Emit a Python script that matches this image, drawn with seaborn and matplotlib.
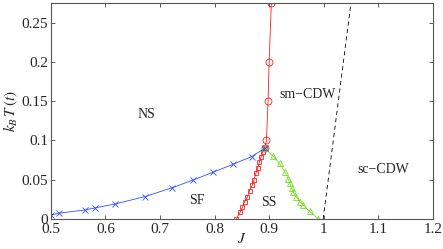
import seaborn as sns
import matplotlib.pyplot as plt

# data
sf_J = [0.5, 0.515, 0.562, 0.58, 0.617, 0.672, 0.721, 0.761, 0.797, 0.834, 0.868, 0.892]
sf_T = [0.005, 0.0075, 0.0115, 0.014, 0.019, 0.0285, 0.0395, 0.0497, 0.0595, 0.0697, 0.0795, 0.09]

ss_J = [0.84, 0.847, 0.851, 0.855, 0.86, 0.864, 0.869, 0.872, 0.876, 0.879, 0.882, 0.885, 0.888, 0.892]
ss_T = [0.0, 0.009, 0.015, 0.022, 0.028, 0.036, 0.043, 0.05, 0.059, 0.065, 0.072, 0.079, 0.085, 0.09]

cdw_J = [0.892, 0.907, 0.919, 0.929, 0.935, 0.938, 0.941, 0.944, 0.95, 0.956, 0.962, 0.974, 0.99]
cdw_T = [0.09, 0.08, 0.071, 0.06, 0.051, 0.046, 0.04, 0.034, 0.028, 0.022, 0.018, 0.01, 0.0]

ns_J = [0.892, 0.895, 0.898, 0.9, 0.904]
ns_T = [0.09, 0.1, 0.15, 0.2, 0.275]

dash_J = [0.999, 1.05]
dash_T = [0.0, 0.275]

labels = ["NS", "SF", "SS", "sm\u2212CDW", "sc\u2212CDW"]
label_J = [0.675, 0.767, 0.9, 0.971, 1.11]
label_T = [0.1327, 0.024, 0.021, 0.158, 0.0625]

sns.set_theme(style="ticks")
plt.rcParams['font.family'] = ['Liberation Serif', 'DejaVu Serif']
plt.rcParams['mathtext.fontset'] = 'stix'

fig = plt.figure(figsize=(4.43, 2.49), dpi=100)
ax = fig.add_axes([0.115, 0.1205, 0.862, 0.8675])

kw = dict(sort=False, estimator=None, ax=ax, linewidth=0.6, legend=False)
sns.lineplot(x=ns_J, y=ns_T, color="#ff2020", marker="o", markersize=5,
             markerfacecolor="none", markeredgecolor="#ff2020", markeredgewidth=0.6, **kw)
sns.lineplot(x=ss_J, y=ss_T, color="#ff2020", marker="s", markersize=3,
             markerfacecolor="none", markeredgecolor="#ff2020", markeredgewidth=0.6, **kw)
sns.lineplot(x=cdw_J, y=cdw_T, color="#77dd22", marker="^", markersize=4,
             markerfacecolor="none", markeredgecolor="#77dd22", markeredgewidth=0.6, **kw)
sns.lineplot(x=sf_J, y=sf_T, color="#3050ff", marker="x", markersize=4,
             markeredgecolor="#3050ff", markeredgewidth=0.6, **kw)
sns.lineplot(x=dash_J, y=dash_T, color="black", linewidth=0.6, ax=ax,
             sort=False, estimator=None, legend=False).lines[-1].set_dashes([5, 4])

for t, xj, yt in zip(labels, label_J, label_T):
    ax.text(xj, yt, t, ha="center", va="center", fontsize=10)

ax.set_xlim(0.5, 1.2)
ax.set_ylim(0, 0.275)
ax.set_xticks([0.5, 0.6, 0.7, 0.8, 0.9, 1.0, 1.1, 1.2])
ax.set_xticklabels(["0.5", "0.6", "0.7", "0.8", "0.9", "1", "1.1", "1.2"])
ax.set_yticks([0, 0.05, 0.1, 0.15, 0.2, 0.25])
ax.set_yticklabels(["0", "0.05", "0.1", "0.15", "0.2", "0.25"])
ax.tick_params(direction="in", length=3, width=0.6, top=True, right=True,
               labelsize=11, color="#444444")
ax.tick_params(axis="x", pad=3)
ax.tick_params(axis="y", pad=2)
for s in ax.spines.values():
    s.set_linewidth(0.8)
    s.set_color("#555555")
    s.set_visible(True)
ax.set_xlabel("$J$", fontsize=11, labelpad=-3)
ax.set_ylabel("$k_B\\,T\\,(t)$", fontsize=11, labelpad=1)

fig.savefig("out.png", dpi=100)
